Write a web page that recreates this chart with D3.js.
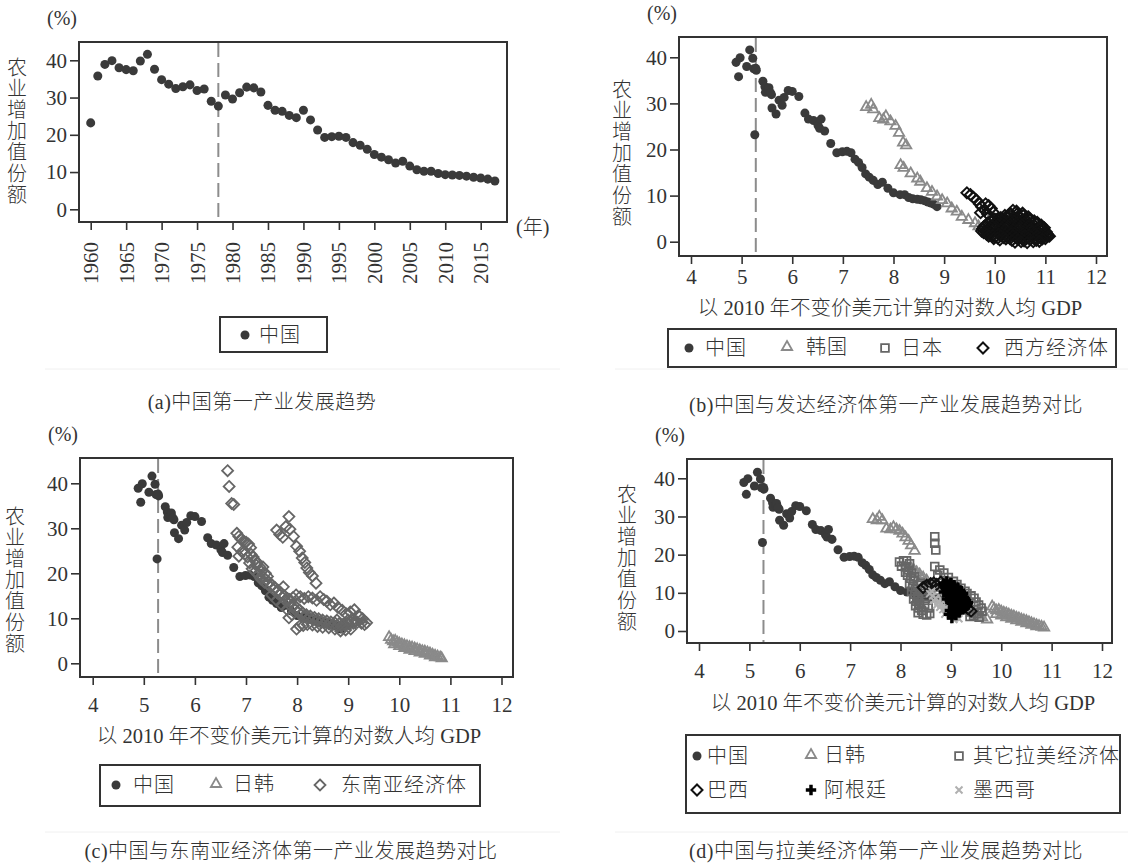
<!DOCTYPE html>
<html>
<head>
<meta charset="utf-8">
<script src="https://cdn.jsdelivr.net/npm/d3@7"></script>
<style>
  body { margin: 0; background: #fff; }
  text { font-family: "Liberation Serif", "Noto Sans CJK SC", serif; fill: #333; font-weight: 300; }
</style>
</head>
<body>
<svg id="chart" width="1128" height="865"></svg>
<script>
// ---- data ----
var years = [1960,1961,1962,1963,1964,1965,1966,1967,1968,1969,1970,1971,1972,1973,1974,1975,1976,1977,1978,1979,
             1980,1981,1982,1983,1984,1985,1986,1987,1988,1989,1990,1991,1992,1993,1994,1995,1996,1997,1998,1999,
             2000,2001,2002,2003,2004,2005,2006,2007,2008,2009,2010,2011,2012,2013,2014,2015,2016,2017];
// China agriculture value added share (%)
var chinaShare = [23.2,35.8,38.9,39.9,38.0,37.5,37.2,39.8,41.6,37.6,34.8,33.6,32.4,32.9,33.4,31.9,32.3,29.0,27.7,30.7,
                  29.6,31.3,32.8,32.6,31.5,27.9,26.6,26.3,25.2,24.6,26.6,24.0,21.3,19.3,19.5,19.6,19.3,17.9,17.2,16.1,
                  14.7,14.0,13.3,12.4,12.9,11.6,10.6,10.2,10.2,9.6,9.3,9.2,9.1,8.9,8.6,8.4,8.1,7.6];
// China log GDP per capita (2010 USD)
var chinaLogGdp = [5.26,4.94,4.89,4.97,5.10,5.24,5.29,5.22,5.16,5.28,5.42,5.46,5.47,5.53,5.54,5.59,5.57,5.60,5.68,5.74,
                   5.80,5.84,5.92,6.00,6.13,6.25,6.32,6.42,6.51,6.54,6.57,6.64,6.76,6.88,6.99,7.08,7.16,7.24,7.31,7.38,
                   7.45,7.52,7.60,7.69,7.78,7.89,8.00,8.13,8.22,8.30,8.38,8.47,8.54,8.61,8.68,8.74,8.80,8.86];
var cutYear = 1978, cutLog = 5.28;

var yearTicks = [1960,1965,1970,1975,1980,1985,1990,1995,2000,2005,2010,2015];
var logTicks = [4,5,6,7,8,9,10,11,12];
var shareTicks = [0,10,20,30,40];

// panel b
var koreaB = [[7.46,29.2],[7.56,29.7],[7.60,28.7],[7.72,26.8],[7.80,26.5],[7.85,27.2],[7.94,26.1],[8.04,25.1],[8.11,23.6],
  [8.19,21.5],[8.25,20.9],[8.14,16.6],[8.20,16.0],[8.34,14.8],[8.47,13.7],[8.53,13.0],[8.66,11.6],[8.76,10.8],[8.86,9.8],
  [8.96,9.0],[9.06,8.3],[9.15,7.2],[9.25,6.5],[9.35,5.4],[9.48,4.7],[9.61,4.0],[9.68,3.3],[9.78,3.0],[9.90,2.6],[10.05,2.2],[10.2,1.9]];
var japanB = [[9.95,5.2],[10.05,4.8],[10.15,4.2],[10.25,3.6],[10.35,3.0],[10.45,2.4],[10.55,1.8],[10.62,1.4],[10.68,1.2]];
var westB = [[9.45,10.6],[9.52,10.2],[9.58,9.6],[9.64,9.0],[9.70,8.2],[9.74,7.6],[9.82,8.2],[9.88,7.8],[9.93,7.2],[9.80,6.8],
  [9.72,6.3],[9.86,6.0],[9.97,6.4],
  [10.30,6.1],[10.43,6.6],[10.55,6.2],[10.36,6.8],
  [10.20,5.7],[10.32,5.9],[10.44,6.0],[10.56,5.7],[10.66,5.4],
  [10.12,5.2],[10.25,5.5],[10.37,5.1],[10.48,5.4],[10.60,5.0],[10.70,4.9],
  [10.00,4.9],[10.08,4.8],[10.20,5.0],[10.32,4.7],[10.44,4.9],[10.56,4.6],[10.68,4.8],[10.78,4.5],
  [9.92,4.5],[10.03,4.3],[10.14,4.6],[10.27,4.2],[10.38,4.5],[10.50,4.1],[10.62,4.4],[10.74,4.0],[10.84,4.2],
  [9.86,4.0],[9.98,3.9],[10.10,4.1],[10.22,3.9],[10.34,4.1],[10.46,3.8],[10.58,4.0],[10.70,3.8],[10.82,3.9],[10.92,3.6],
  [9.82,3.6],[9.95,3.4],[10.06,3.7],[10.18,3.5],[10.30,3.8],[10.41,3.4],[10.54,3.7],[10.66,3.3],[10.78,3.6],[10.90,3.2],
  [9.78,3.2],[9.90,3.0],[10.02,3.3],[10.14,3.1],[10.26,3.4],[10.38,3.0],[10.50,3.3],[10.62,3.0],[10.74,3.2],[10.86,2.9],[10.98,3.0],
  [9.76,2.8],[9.88,2.6],[10.00,2.9],[10.12,2.7],[10.24,3.0],[10.36,2.6],[10.48,2.9],[10.60,2.6],[10.72,2.8],[10.84,2.5],[10.96,2.7],
  [9.74,2.3],[9.84,2.2],[9.96,2.5],[10.08,2.3],[10.20,2.6],[10.32,2.2],[10.44,2.5],[10.56,2.3],[10.68,2.5],[10.80,2.2],[10.92,2.4],[11.02,2.1],
  [9.78,2.0],[9.90,1.8],[10.02,2.1],[10.14,1.9],[10.26,2.2],[10.38,1.8],[10.50,2.1],[10.62,1.9],[10.74,2.2],[10.86,1.8],[10.98,2.0],[11.04,1.6],
  [9.84,1.6],[9.96,1.4],[10.08,1.7],[10.20,1.5],[10.32,1.8],[10.44,1.4],[10.56,1.7],[10.68,1.5],[10.80,1.7],[10.92,1.4],[11.02,1.5],[11.08,1.2],
  [9.88,1.2],[10.00,1.0],[10.12,1.3],[10.24,1.1],[10.36,1.4],[10.48,1.0],[10.60,1.3],[10.72,1.1],[10.84,1.3],[10.96,1.0],[11.05,1.2],
  [9.98,0.7],[10.06,0.8],[10.18,0.9],[10.30,0.7],[10.42,0.9],[10.54,0.6],[10.66,0.8],[10.78,0.7],[10.90,0.9],[11.00,0.7],
  [10.10,0.4],[10.22,0.6],[10.34,0.3],[10.46,0.5],[10.58,0.2],[10.70,0.5],[10.82,0.3],[10.94,0.6],
  [10.40,-0.1],[10.52,0.0],[10.64,-0.2],[10.76,0.0],[10.88,0.1]];

// panel c
var seaC = [[6.64,42.8],[6.67,39.3],[6.72,35.5],[6.76,35.3],
  [6.82,28.9],[6.86,28.2],[6.90,27.6],[6.95,27.2],[7.00,26.9],[7.05,26.5],[7.09,25.7],[6.84,25.8],[6.86,23.8],[6.92,24.8],
  [6.98,24.3],[7.03,23.6],[7.10,24.2],[7.14,23.6],[7.07,22.3],[7.17,22.9],[7.22,22.4],[7.26,21.5],[7.33,21.4],[7.30,20.4],
  [7.38,20.0],[7.42,19.3],[7.12,21.0],[7.18,20.4],[7.24,19.6],[7.20,21.8],[7.28,19.0],
  [7.30,18.6],[7.36,18.0],[7.42,17.6],[7.48,17.0],[7.54,16.4],[7.60,15.8],[7.66,15.2],[7.72,14.6],[7.78,13.9],[7.84,13.2],
  [7.90,12.6],[7.96,11.9],[8.02,11.3],[8.08,10.8],[8.14,10.4],[8.22,10.1],[8.30,9.8],[8.38,9.5],[8.46,9.2],[8.54,9.0],
  [8.62,8.8],[8.70,8.6],[8.78,8.4],[8.86,8.2],[8.94,8.4],[9.02,8.7],[9.10,8.9],[9.18,9.1],[9.26,8.9],[9.32,8.6],
  [7.33,19.2],[7.39,18.6],[7.45,18.0],[7.51,17.4],[7.57,16.8],[7.63,16.2],[7.69,15.6],[7.75,15.0],[7.81,14.4],[7.87,13.7],
  [7.93,13.0],[7.99,12.4],[8.05,11.8],[8.11,11.2],[8.18,10.8],[8.26,10.5],[8.34,10.2],[8.42,9.9],[8.50,9.6],[8.58,9.4],
  [8.66,9.2],[8.74,9.0],[8.82,8.8],[8.90,8.7],[8.98,8.9],[9.06,9.2],[9.14,9.4],
  [7.50,15.2],[7.60,14.0],[7.70,13.0],[7.80,12.0],[7.90,10.8],[7.99,7.6],[8.05,8.3],[8.12,8.4],[8.20,8.6],[8.30,8.5],
  [8.40,8.2],[8.50,8.0],[8.62,7.9],[8.74,7.6],[8.85,7.2],[8.95,7.4],[9.05,7.6],
  [7.85,14.2],[7.92,14.6],[7.98,15.2],[8.06,14.8],[8.14,14.4],[8.22,14.8],[8.30,14.5],[8.38,14.0],[8.45,14.8],[8.52,14.2],
  [8.58,13.8],[8.65,13.0],[8.72,13.4],[8.80,12.4],[8.88,11.8],[8.96,11.0],[9.04,11.4],[9.12,11.9],[9.20,10.6],[9.28,9.9],[9.36,9.0],
  [7.60,29.6],[7.66,28.6],[7.72,28.0],[7.78,30.4],[7.84,32.6],[7.86,29.8],[7.93,28.2],[7.99,26.0],[8.05,24.9],[8.10,23.4],
  [8.15,22.4],[8.19,21.2],[8.24,20.2],[8.30,19.4],[8.37,17.8],
  [7.73,17.0],[7.84,10.1],[8.78,9.6],[9.00,9.6],[9.22,10.4]];
var jkC = [[9.80,5.8],[9.84,5.2],[9.88,4.9],[9.92,5.0],[9.96,4.6],[10.00,4.4],[10.05,4.2],[10.10,4.0],[10.15,3.8],[10.20,3.6],
  [10.25,3.5],[10.30,3.3],[10.35,3.1],[10.40,2.9],[10.45,2.7],[10.50,2.6],[10.55,2.4],[10.60,2.2],[10.65,1.9],[10.70,1.7],
  [10.75,1.5],[10.80,1.3],[10.83,1.1],[9.90,4.2],[10.00,3.8],[10.10,3.4],[10.20,3.0],[10.30,2.7],[10.40,2.4],[10.50,2.1],
  [10.60,1.7],[10.70,1.3]];

// panel d
var jkD = [[7.45,29.3],[7.53,29.0],[7.58,29.9],[7.64,29.0],[7.72,26.8],[7.80,26.6],[7.86,27.2],[7.92,26.6],[7.98,26.2],
  [8.04,25.5],[8.10,24.5],[8.16,23.6],[8.21,22.4],[8.28,21.0],[8.20,16.6],[8.26,16.0],[8.32,15.4],[8.38,14.8],[8.45,14.0],
  [8.52,13.2],[8.60,12.2],[8.68,11.2],[8.76,10.4],[8.84,9.6],[8.92,8.8],[9.00,8.0],[9.08,7.2],[9.16,6.4],[9.24,5.8],
  [9.32,5.2],[9.42,4.7],[9.52,4.2],[9.62,3.6],[9.72,3.0],
  [9.82,6.4],[9.86,5.8],[9.90,5.4],[9.95,5.5],[10.00,5.1],[10.05,4.8],[10.10,4.6],[10.15,4.3],[10.20,4.0],[10.25,3.8],
  [10.30,3.5],[10.35,3.3],[10.40,3.0],[10.45,2.8],[10.50,2.6],[10.55,2.3],[10.60,2.0],[10.65,1.8],[10.70,1.5],[10.75,1.3],
  [10.80,1.1],[10.85,0.9],[9.90,4.4],[10.00,4.0],[10.10,3.6],[10.20,3.2],[10.30,2.8],[10.40,2.4],[10.50,2.0],[10.60,1.6],[10.70,1.2]];
var otherLatD = [[8.68,24.7],[8.68,23.0],[8.70,21.2],[8.68,16.9],[8.78,16.0],[8.86,15.2],[8.95,14.0],[8.74,14.6],
  [7.98,18.1],[8.06,18.4],[8.12,18.4],[8.18,17.6],[8.02,17.0],[8.10,16.8],[8.16,16.0],[8.22,15.2],[8.14,14.6],[8.20,13.8],
  [8.26,13.2],[8.18,12.4],[8.24,11.6],[8.30,11.0],[8.22,10.4],[8.28,9.6],[8.34,9.0],[8.26,8.4],[8.32,7.8],[8.38,7.2],
  [8.30,6.6],[8.36,6.0],[8.42,5.4],[8.35,4.8],[8.45,4.4],[8.52,4.2],[8.58,4.6],[8.40,12.6],[8.46,11.2],[8.44,9.8],
  [8.50,8.6],[8.48,7.0],[8.55,6.0],[8.10,15.4],[8.28,14.2],[8.34,12.0],[8.40,10.6],[8.36,8.4],
  [9.05,13.0],[9.12,12.2],[9.20,11.2],[9.28,10.4],[9.32,9.8],[9.40,9.2],[9.46,8.6],[9.50,7.6],[9.55,6.8],[9.60,6.0],
  [9.62,5.2],[9.52,4.6],[9.45,4.0],[9.38,3.8],[9.56,3.6]];
var brazilD = [[8.45,11.4],[8.52,12.0],[8.60,12.4],[8.66,12.6],[8.72,12.2],[8.80,12.8],[8.86,12.0],[8.92,11.2],[8.98,10.4],
  [9.04,9.6],[9.10,8.8],[9.16,8.0],[9.22,7.2],[9.28,6.4],[9.34,5.8],[9.40,5.2]];
var argentinaD = [[8.86,12.4],[8.92,13.0],[8.98,12.2],[9.04,11.6],[8.90,11.0],[8.96,10.4],[9.02,10.0],[9.08,10.8],[9.14,11.4],
  [9.20,10.2],[9.10,9.4],[9.16,8.8],[9.22,9.2],[9.28,8.4],[9.04,8.6],[8.98,8.0],[9.08,7.6],[9.14,7.0],[9.20,7.6],[9.26,7.0],
  [9.32,6.6],[9.12,6.2],[9.18,5.6],[9.24,5.8],[9.04,5.0],[8.96,4.4],[9.02,3.4],[9.10,4.2],[9.30,8.0],[9.34,7.4],[8.94,9.2],
  [9.00,9.0],[9.06,6.6],[8.88,11.8],[8.94,11.4],[9.00,12.6],[9.06,12.0],[9.12,10.0],[9.18,10.6],[9.24,9.8],[9.18,9.6],
  [9.02,7.2],[9.10,8.2],[9.16,7.4],[9.22,6.4],[9.28,6.0],[9.10,5.4],[9.16,4.8],[8.98,5.4],[9.04,6.0],[9.26,8.8],[8.92,8.4],[8.86,10.2]];
var mexicoD = [[8.58,9.8],[8.64,9.2],[8.70,8.6],[8.66,8.0],[8.74,7.6],[8.80,7.0],[8.72,6.8],[8.78,6.2],[8.86,6.6],[8.84,5.6],
  [8.92,5.2],[8.90,6.0],[8.98,5.8],[8.96,4.8],[9.04,4.2],[9.10,3.6],[9.16,3.2],[9.06,3.0],[8.62,10.4],[8.82,8.2],[8.88,4.4]];

var yTitle = "农业增加值份额";
var xTitleLog = "以 2010 年不变价美元计算的对数人均 GDP";

// ---- drawing ----
var svg = d3.select("#chart");

var markers = {
  circle:   {path: d3.symbol(d3.symbolCircle, 64)(), fill: "#3a3a3a", stroke: "none", sw: 0},
  triangle: {path: d3.symbol(d3.symbolTriangle, 46)(), fill: "none", stroke: "#8a8a8a", sw: 1.8},
  square:   {path: d3.symbol(d3.symbolSquare, 60)(), fill: "none", stroke: "#666", sw: 1.8},
  diamond:  {path: "M0,-5.5L5.5,0L0,5.5L-5.5,0Z", fill: "none", stroke: "#111", sw: 2},
  diamondG: {path: "M0,-5.5L5.5,0L0,5.5L-5.5,0Z", fill: "none", stroke: "#666", sw: 1.8},
  plus:     {path: d3.symbol(d3.symbolCross, 60)(), fill: "#000", stroke: "none", sw: 0},
  ex:       {path: "M-3.5,-3.5L3.5,3.5M-3.5,3.5L3.5,-3.5", fill: "none", stroke: "#b0b0b0", sw: 2}
};

function drawPoints(g, data, x, y, m) {
  g.append("g").selectAll("path")
    .data(data)
    .enter().append("path")
      .attr("d", m.path)
      .attr("transform", function(d) { return "translate(" + x(d[0]) + "," + y(d[1]) + ")"; })
      .attr("fill", m.fill)
      .attr("stroke", m.stroke)
      .attr("stroke-width", m.sw);
}

function makePanel(o) {
  var g = svg.append("g");
  var x = d3.scaleLinear().domain(o.xDom).range(o.xRange);
  var y = d3.scaleLinear().domain([0, 40]).range(o.yRange);
  var f = o.frame; // left, right, top, bottom

  var ya = g.append("g")
      .attr("transform", "translate(" + f[0] + ",0)")
      .call(d3.axisLeft(y).tickValues(shareTicks).tickSize(9).tickPadding(3));
  var xa = g.append("g")
      .attr("transform", "translate(0," + f[3] + ")")
      .call(d3.axisBottom(x).tickValues(o.xTicks).tickSize(8).tickPadding(o.xPad).tickFormat(d3.format("d")));
  [ya, xa].forEach(function(a) {
    a.select(".domain").remove();
    a.selectAll("line").attr("stroke", "#333").attr("stroke-width", 1.6);
    a.selectAll("text").attr("font-size", 21).attr("fill", "#333")
      .style("font-family", '"Liberation Serif", serif').style("font-weight", 400);
  });

  g.append("rect")
      .attr("x", f[0]).attr("y", f[2])
      .attr("width", f[1] - f[0]).attr("height", f[3] - f[2])
      .attr("fill", "none").attr("stroke", "#333").attr("stroke-width", 2);

  // dashed reference line
  g.append("line")
      .attr("x1", x(o.cut)).attr("x2", x(o.cut))
      .attr("y1", f[2] + 1).attr("y2", f[3] - 1)
      .attr("stroke", "#8c8c8c").attr("stroke-width", 2)
      .attr("stroke-dasharray", "14,6");

  // "(%)"
  g.append("text").attr("x", f[0] - 32).attr("y", f[2] - 24)
      .attr("font-size", 20).attr("dominant-baseline", "central").text("(%)");

  // vertical y title, one character per line
  var t = g.append("text").attr("font-size", 20).attr("text-anchor", "middle");
  yTitle.split("").forEach(function(c, i) {
    t.append("tspan").attr("x", o.yTitleX).attr("y", o.yTitleY + i * 21.1)
      .attr("dominant-baseline", "central").text(c);
  });

  return {g: g, x: x, y: y, xa: xa};
}

function legendBox(x0, y0, w, h) {
  svg.append("rect").attr("x", x0).attr("y", y0).attr("width", w).attr("height", h)
    .attr("fill", "none").attr("stroke", "#333").attr("stroke-width", 2);
}
function legendItem(m, mx, my, label, tx) {
  var mk = markers[m];
  svg.append("path").attr("d", mk.path).attr("transform", "translate(" + mx + "," + my + ")")
    .attr("fill", mk.fill).attr("stroke", mk.stroke).attr("stroke-width", mk.sw);
  svg.append("text").attr("x", tx).attr("y", my).attr("font-size", 20)
    .attr("dominant-baseline", "central").attr("letter-spacing", 1).text(label);
}
function caption(cx, cy, s) {
  svg.append("text").attr("x", cx).attr("y", cy).attr("font-size", 20).attr("text-anchor", "middle")
    .attr("dominant-baseline", "central").attr("letter-spacing", 0.5).text(s);
}
function xTitle(cx, cy, s) {
  svg.append("text").attr("x", cx).attr("y", cy).attr("font-size", 20.5).attr("text-anchor", "middle")
    .attr("dominant-baseline", "central").text(s);
}

// faint page rules
[[45, 560, 369], [615, 1128, 369], [45, 560, 832], [615, 1128, 832]].forEach(function(r) {
  svg.append("line").attr("x1", r[0]).attr("x2", r[1]).attr("y1", r[2]).attr("y2", r[2])
    .attr("stroke", "#f0f0f0").attr("stroke-width", 1);
});

// ---- (a) ----
var pa = makePanel({frame: [79, 507, 42, 222], xDom: [1960, 2015], xRange: [90.7, 480.7],
  yRange: [209.3, 60.3], xTicks: yearTicks, xPad: 4, cut: cutYear, yTitleX: 17, yTitleY: 68});
pa.xa.selectAll("text")
  .attr("transform", "rotate(-90)")
  .attr("text-anchor", "end")
  .attr("x", -20).attr("y", 0).attr("dy", "0.33em");
drawPoints(pa.g, years.map(function(yr, i) { return [yr, chinaShare[i]]; }), pa.x, pa.y, markers.circle);
svg.append("text").attr("x", 516).attr("y", 227).attr("font-size", 20)
  .attr("dominant-baseline", "central").text("(年)");
legendBox(220, 317, 107, 35);
legendItem("circle", 245, 335, "中国", 259);
caption(262, 402, "(a)中国第一产业发展趋势");

// ---- (b) ----
var chinaXY = chinaLogGdp.map(function(v, i) { return [v, chinaShare[i]]; });
var pb = makePanel({frame: [679, 1107, 37, 256], xDom: [4, 12], xRange: [691, 1096],
  yRange: [241.7, 57.3], xTicks: logTicks, xPad: 5, cut: cutLog, yTitleX: 622, yTitleY: 90});
drawPoints(pb.g, chinaXY, pb.x, pb.y, markers.circle);
drawPoints(pb.g, koreaB, pb.x, pb.y, markers.triangle);
drawPoints(pb.g, japanB, pb.x, pb.y, markers.square);
drawPoints(pb.g, westB, pb.x, pb.y, markers.diamond);
xTitle(890, 308, xTitleLog);
legendBox(668, 329, 448, 38);
legendItem("circle", 689, 348, "中国", 705);
legendItem("triangle", 787, 347, "韩国", 806);
legendItem("square", 885, 348, "日本", 901);
legendItem("diamond", 983, 348, "西方经济体", 1004);
caption(886, 405, "(b)中国与发达经济体第一产业发展趋势对比");

// ---- (c) ----
var pc = makePanel({frame: [80, 513, 458, 677], xDom: [4, 12], xRange: [92.7, 501.5],
  yRange: [663.3, 483.3], xTicks: logTicks, xPad: 12, cut: cutLog, yTitleX: 15, yTitleY: 517});
drawPoints(pc.g, chinaXY, pc.x, pc.y, markers.circle);
drawPoints(pc.g, jkC, pc.x, pc.y, markers.triangle);
drawPoints(pc.g, seaC, pc.x, pc.y, markers.diamondG);
xTitle(289, 736, xTitleLog);
legendBox(100, 765, 380, 41);
legendItem("circle", 116, 785, "中国", 133);
legendItem("triangle", 216, 784, "日韩", 233);
legendItem("diamondG", 320, 785, "东南亚经济体", 341);
caption(291, 851, "(c)中国与东南亚经济体第一产业发展趋势对比");

// ---- (d) ----
var pd = makePanel({frame: [687, 1112, 459, 643], xDom: [4, 12], xRange: [699, 1102],
  yRange: [631, 478.3], xTicks: logTicks, xPad: 12, cut: cutLog, yTitleX: 627, yTitleY: 495});
drawPoints(pd.g, chinaXY, pd.x, pd.y, markers.circle);
drawPoints(pd.g, jkD, pd.x, pd.y, markers.triangle);
drawPoints(pd.g, otherLatD, pd.x, pd.y, markers.square);
drawPoints(pd.g, brazilD, pd.x, pd.y, markers.diamond);
drawPoints(pd.g, mexicoD, pd.x, pd.y, markers.ex);
drawPoints(pd.g, argentinaD, pd.x, pd.y, markers.plus);
xTitle(903, 703, xTitleLog);
legendBox(686, 735, 434, 78);
legendItem("circle", 697, 756, "中国", 707);
legendItem("triangle", 811, 755, "日韩", 824);
legendItem("square", 959, 756, "其它拉美经济体", 973);
legendItem("diamond", 697, 790, "巴西", 707);
legendItem("plus", 811, 790, "阿根廷", 824);
legendItem("ex", 959, 790, "墨西哥", 973);
caption(886, 851, "(d)中国与拉美经济体第一产业发展趋势对比");
</script>
</body>
</html>
